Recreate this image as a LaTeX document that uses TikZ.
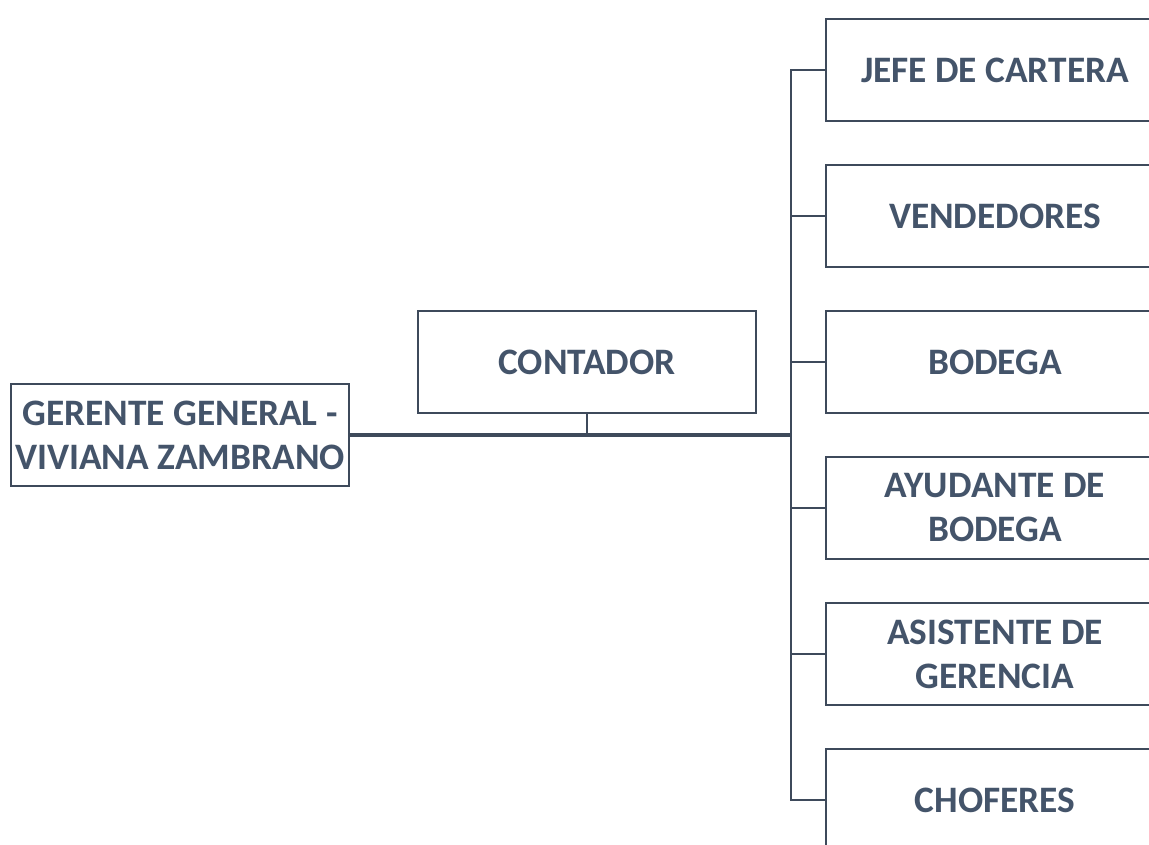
\documentclass[tikz,border=0pt]{standalone}
\usepackage{fontspec}
\setmainfont{Carlito}
\definecolor{txt}{HTML}{44546A}
\definecolor{ln}{HTML}{3E4A5B}
\begin{document}
\begin{tikzpicture}[x=0.75pt,y=-0.75pt,
  box/.style={draw=ln,line width=1.5pt,fill=white,minimum width=254pt,minimum height=77pt,
    inner sep=0pt,align=center,text=txt,font=\fontsize{28}{33}\selectfont\bfseries},
  link/.style={draw=ln,line width=1.5pt},
  mainlink/.style={draw=ln,line width=2.4pt},
  stemlink/.style={draw=ln,line width=1.1pt}]
\useasboundingbox (0,0) rectangle (1149,844);
\node[box] (ger) at (180,435) {GERENTE GENERAL -\\VIVIANA ZAMBRANO};
\node[box] (con) at (587,362) {CONTADOR};
\node[box] (b1) at (995,70) {JEFE DE CARTERA};
\node[box] (b2) at (995,216) {VENDEDORES};
\node[box] (b3) at (995,362) {BODEGA};
\node[box] (b4) at (995,508) {AYUDANTE DE\\BODEGA};
\node[box] (b5) at (995,654) {ASISTENTE DE\\GERENCIA};
\node[box] (b6) at (995,800) {CHOFERES};
\coordinate (jn) at (791,435);
\coordinate (vt) at (791,70);
\coordinate (vb) at (791,800);
\draw[link] (b1.west) -- (vt) -- (vb) -- (b6.west);
\foreach \b in {b2,b3,b4,b5}{\draw[link] (\b.west) -- (\b.west -| jn);}
\draw[mainlink] (ger.east) -- (jn);
\draw[stemlink] (con.south) -- (con.south |- jn);
\end{tikzpicture}
\end{document}
